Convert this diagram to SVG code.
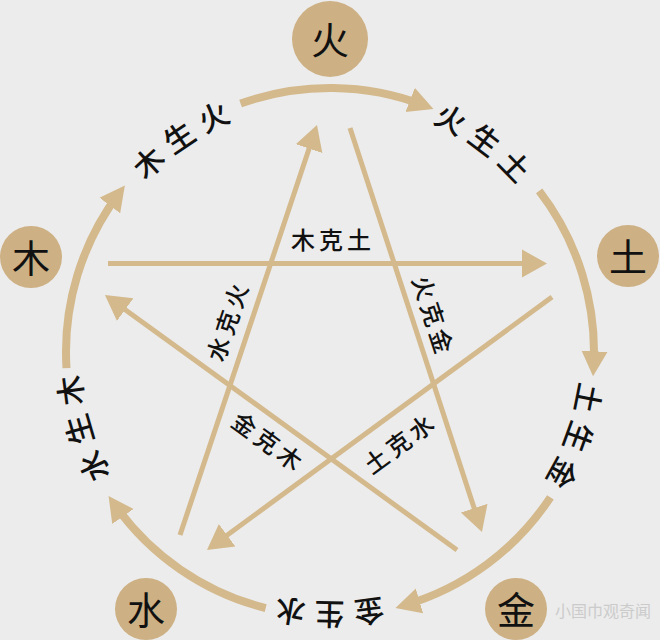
<svg xmlns="http://www.w3.org/2000/svg" xmlns:xlink="http://www.w3.org/1999/xlink" width="660" height="640" viewBox="0 0 660 640">
  <style>
    .node circle { fill: #cdb083; }
    .node text { font-family: "Noto Sans CJK SC", "Noto Sans", sans-serif; font-size: 38px; fill: #111; text-anchor: middle; dominant-baseline: central; }
    .arc { fill: none; stroke: #d3b98c; stroke-width: 8; marker-end: url(#arcHead); }
    .ke { fill: none; stroke: #d3b98c; stroke-width: 5; marker-end: url(#keHead); }
    .sheng { font-family: "Noto Sans CJK SC", "Noto Sans", sans-serif; font-size: 30px; font-weight: 500; fill: #111; letter-spacing: 10px; dominant-baseline: central; }
    .kelabel { font-family: "Noto Sans CJK SC", "Noto Sans", sans-serif; font-size: 24px; font-weight: 500; fill: #111; letter-spacing: 4px; text-anchor: middle; dominant-baseline: central; }
    .wm { font-family: "Noto Sans CJK SC", "Noto Sans", sans-serif; font-size: 16px; fill: #cbcbcb; text-anchor: end; }
  </style>
  <defs>
    <marker id="arcHead" markerUnits="userSpaceOnUse" markerWidth="26" markerHeight="28" refX="16" refY="13" orient="auto" viewBox="0 0 26 26">
      <path d="M0,0 L25,13 L0,26 Z" fill="#d3b98c"/>
    </marker>
    <marker id="keHead" markerUnits="userSpaceOnUse" markerWidth="26" markerHeight="30" refX="20" refY="14" orient="auto" viewBox="0 0 26 28">
      <path d="M0,0 L25,14 L0,28 Z" fill="#d3b98c"/>
    </marker>
    <path id="ring" d="M594,352 A264,264 0 1,1 66,352 A264,264 0 1,1 594,352"/>
  </defs>
  <rect width="660" height="640" fill="#ececec"/>

  <g id="connectors">
    <path class="arc" d="M66.49,368.12 A264,264 0 0,1 119.44,192.75"/>
    <path class="arc" d="M240.57,103.61 A264,264 0 0,1 425.04,105.70"/>
    <path class="arc" d="M539.16,190.92 A264,264 0 0,1 593.56,367.20"/>
    <path class="arc" d="M550.40,497.33 A264,264 0 0,1 404.10,605.39"/>
    <path class="arc" d="M265.68,608.05 A264,264 0 0,1 113.74,503.42"/>

    <line class="ke" x1="108" y1="263.5" x2="542" y2="263.5"/>
    <line class="ke" x1="350" y1="128" x2="480.4" y2="527.2"/>
    <line class="ke" x1="552" y1="297" x2="211" y2="547"/>
    <line class="ke" x1="457" y1="550" x2="109" y2="297.9"/>
    <line class="ke" x1="180" y1="535" x2="315.4" y2="129.7"/>

    <text class="sheng"><textPath xlink:href="#ring" href="#ring" startOffset="1087" text-anchor="middle">木生火</textPath></text>
    <text class="sheng"><textPath xlink:href="#ring" href="#ring" startOffset="1415" text-anchor="middle">火生土</textPath></text>
    <text class="sheng"><textPath xlink:href="#ring" href="#ring" startOffset="92" text-anchor="middle">土生金</textPath></text>
    <text class="sheng"><textPath xlink:href="#ring" href="#ring" startOffset="420" text-anchor="middle">金生水</textPath></text>
    <text class="sheng"><textPath xlink:href="#ring" href="#ring" startOffset="755" text-anchor="middle">水生木</textPath></text>

    <text class="kelabel" transform="translate(333,238)">木克土</text>
    <text class="kelabel" transform="translate(226,322) rotate(-71.5)" x="2">水克火</text>
    <text class="kelabel" transform="translate(434,314) rotate(72)" x="2">火克金</text>
    <text class="kelabel" transform="translate(268,440) rotate(36)" x="2">金克木</text>
    <text class="kelabel" transform="translate(398,443) rotate(-36.5)" x="2">土克水</text>
  </g>

  <g id="node-huo" class="node">
    <circle cx="330" cy="39" r="38"/>
    <text x="330" y="37">火</text>
  </g>
  <g id="node-mu" class="node">
    <circle cx="31" cy="257" r="31"/>
    <text x="31" y="255">木</text>
  </g>
  <g id="node-tu" class="node">
    <circle cx="628" cy="256" r="31"/>
    <text x="628" y="254">土</text>
  </g>
  <g id="node-shui" class="node">
    <circle cx="146" cy="609" r="31"/>
    <text x="146" y="607">水</text>
  </g>
  <g id="node-jin" class="node">
    <circle cx="516" cy="609" r="31"/>
    <text x="516" y="607">金</text>
  </g>

  <text class="wm" x="651" y="617">小国巾观奇闻</text>
</svg>
